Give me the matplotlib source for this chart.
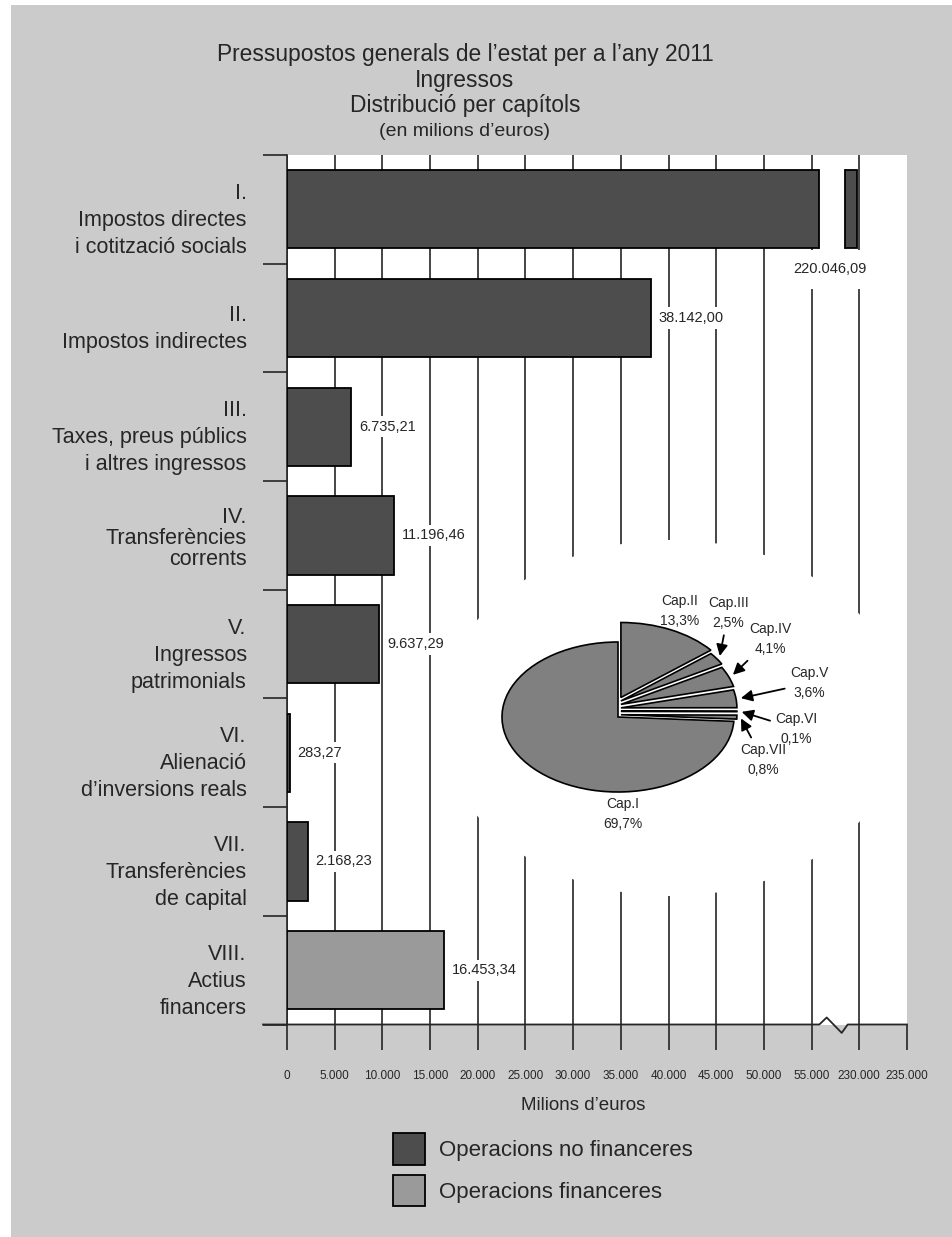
import numpy as np
import matplotlib
matplotlib.use("Agg")
import matplotlib.pyplot as plt
import matplotlib.transforms as mtransforms
from matplotlib import font_manager
from matplotlib.patches import Patch, Rectangle, Ellipse
from matplotlib.lines import Line2D

# Capítols d'ingressos (milions d'euros)
chapters = [
    "I.\nImpostos directes\ni cotització socials",
    "II.\nImpostos indirectes",
    "III.\nTaxes, preus públics\ni altres ingressos",
    "IV.\nTransferències\ncorrents",
    "V.\nIngressos\npatrimonials",
    "VI.\nAlienació\nd’inversions reals",
    "VII.\nTransferències\nde capital",
    "VIII.\nActius\nfinancers",
]
amounts = [220046.09, 38142.00, 6735.21, 11196.46, 9637.29, 283.27, 2168.23, 16453.34]
is_financial = [False, False, False, False, False, False, False, True]

# Pes de cada capítol de les operacions no financeres (%)
pie_names = ["Cap.I", "Cap.II", "Cap.III", "Cap.IV", "Cap.V", "Cap.VI", "Cap.VII"]
pie_shares = [69.7, 13.3, 2.5, 4.1, 3.6, 0.1, 0.8]

tick_values = [0, 5000, 10000, 15000, 20000, 25000, 30000, 35000, 40000,
               45000, 50000, 55000, 230000, 235000]

title_lines = ["Pressupostos generals de l’estat per a l’any 2011",
               "Ingressos",
               "Distribució per capítols",
               "(en milions d’euros)"]

GRAY = "#cbcbcb"
DARK = "#4d4d4d"
LIGHT = "#9a9a9a"
PIE = "#808080"
INK = "#262626"

names = {f.name for f in font_manager.fontManager.ttflist}
plt.rcParams["font.family"] = ["Liberation Sans", "DejaVu Sans"]
if "Liberation Sans Narrow" in names:
    tick_font, tick_size = "Liberation Sans Narrow", 10.5
else:
    tick_font, tick_size = "Liberation Sans", 8.5

W, H = 953, 1237


def fx(px):
    return px / W


def fy(py):
    return 1 - py / H


# axis with a break between 55.000 and 230.000
LOW_MAX, HIGH_MIN, STEP = 55000, 230000, 5000
K = LOW_MAX / STEP


def fwd(v):
    v = np.asarray(v, dtype=float)
    return np.where(v <= LOW_MAX, v / STEP,
                    np.where(v <= HIGH_MIN,
                             K + (v - LOW_MAX) / (HIGH_MIN - LOW_MAX),
                             K + 1 + (v - HIGH_MIN) / STEP))


def inv(p):
    p = np.asarray(p, dtype=float)
    return np.where(p <= K, p * STEP,
                    np.where(p <= K + 1,
                             LOW_MAX + (p - K) * (HIGH_MIN - LOW_MAX),
                             HIGH_MIN + (p - K - 1) * STEP))


def euro(v, dec=2):
    s = f"{v:,.{dec}f}"
    return s.replace(",", "#").replace(".", ",").replace("#", ".")


fig = plt.figure(figsize=(W / 100, H / 100), dpi=100, facecolor="white")
fig.add_artist(Rectangle((fx(11), 0), 1, fy(5), transform=fig.transFigure,
                         facecolor=GRAY, edgecolor="none", zorder=-10))

# titles
title_y = [61, 87, 112, 136]
title_size = [16.4, 16.4, 16.4, 14]
for txt, y, s in zip(title_lines, title_y, title_size):
    fig.text(fx(465), fy(y), txt, ha="center", va="baseline", fontsize=s, color=INK)

ax = fig.add_axes([fx(287), fy(1024.5), fx(620), (1024.5 - 155) / H])
ax.set_facecolor("white")
n = len(chapters)
centers = np.arange(n) + 0.5

ax.set_xscale("function", functions=(fwd, inv))
ax.set_xlim(0, 235000)
ax.set_ylim(n, 0)

# vertical rules
ax.vlines(tick_values[:-1], 0, n, colors=INK, lw=1.2, zorder=1)

colors = [LIGHT if f else DARK for f in is_financial]
ax.barh(centers, amounts, height=0.72, color=colors, edgecolor="black",
        linewidth=1.3, zorder=3)

# gap in the first bar
gap_l, gap_r = (819.3 - 287) / 620, (845 - 287) / 620
blend = mtransforms.blended_transform_factory(ax.transAxes, ax.transData)
ax.add_patch(Rectangle((gap_l, centers[0] - 0.4), gap_r - gap_l, 0.8,
                       transform=blend, facecolor="white", edgecolor="none", zorder=3.5))
for gx in (gap_l, gap_r):
    ax.add_line(Line2D([gx, gx], [centers[0] - 0.36, centers[0] + 0.36],
                       transform=blend, color="black", lw=1.3, zorder=3.6))

# value labels
for i, v in enumerate(amounts):
    if i == 0:
        ax.annotate(euro(v), xy=(v, centers[i] + 0.36), xytext=(10, -14),
                    textcoords="offset pixels", ha="right", va="top", fontsize=10.5,
                    color=INK, zorder=5,
                    bbox=dict(boxstyle="square", fc="white", ec="none", pad=0.85))
    else:
        ax.annotate(euro(v), xy=(v, centers[i]), xytext=(8, 0),
                    textcoords="offset pixels", ha="left", va="center", fontsize=10.5,
                    color=INK, zorder=5,
                    bbox=dict(boxstyle="square", fc="white", ec="none", pad=0.25))

# axis ticks and labels
ax.set_xticks(tick_values, labels=[euro(t, 0) for t in tick_values])
ax.tick_params(axis="x", length=17.8, width=1.2, color=INK, pad=15,
               labelsize=tick_size, labelcolor=INK)
for lbl in ax.get_xticklabels():
    lbl.set_fontfamily(tick_font)

ax.set_yticks(centers, labels=chapters)
ax.set_yticks(np.arange(n + 1), minor=True)
ax.tick_params(axis="y", which="major", length=0, pad=29, labelsize=15.5, labelcolor=INK)
ax.tick_params(axis="y", which="minor", length=17.3, width=1.2, color=INK)
for i, lbl in enumerate(ax.get_yticklabels()):
    dy = -0.03 if i == 3 else -0.11
    lbl.set_va("center")
    lbl.set_multialignment("right")
    lbl.set_linespacing(1.0 if i == 3 else 1.38)
    lbl.set_transform(lbl.get_transform()
                      + mtransforms.ScaledTranslation(0, dy, fig.dpi_scale_trans))

for side in ("top", "right", "bottom"):
    ax.spines[side].set_visible(False)
ax.spines["left"].set_color(INK)
ax.spines["left"].set_linewidth(1.2)

# base line with the break mark
ax.add_line(Line2D([-24 / 620, gap_l, 0.8705, 0.8947, 0.9044, 1.0],
                   [0, 0, 7 / 869.5, -8.4 / 869.5, 0, 0],
                   transform=ax.transAxes, color=INK, lw=1.3, clip_on=False, zorder=6))

ax.set_xlabel("Milions d’euros", fontsize=13.5, color=INK)
ax.xaxis.set_label_coords((583 - 287) / 620, -(1105 - 1024.5) / 869.5)
ax.xaxis.label.set_va("center")

# pie of the non-financial chapters
pcx, pcy, rx, ry = 618, 717, 116, 75
left, right, top, bottom = 430, 905, 535, 900
pax = fig.add_axes([fx(left), fy(bottom), (right - left) / W, (bottom - top) / H])
start = 90 + 360 * pie_shares[0] / sum(pie_shares)
wedges, _ = pax.pie(pie_shares, startangle=start, counterclock=False,
                    colors=[PIE] * len(pie_shares),
                    wedgeprops=dict(edgecolor="black", linewidth=1.2))
# lift the small slices apart from each other, stacked upwards
m = len(wedges)
for j, w in enumerate(wedges[1:], start=1):
    w.set_center((0.025, 0.03 + 0.046 * (m - 1 - j)))
pax.set_aspect("auto")
pax.set_xlim((left - pcx) / rx, (right - pcx) / rx)
pax.set_ylim((pcy - bottom) / ry, (pcy - top) / ry)
pax.axis("off")

# white clearing behind the pie, over the vertical rules
ax.add_patch(Ellipse(((671 - pcx) / rx, (pcy - 718) / ry), 2 * 232 / rx, 2 * 178 / ry,
                     transform=pax.transData, facecolor="white", edgecolor="none",
                     zorder=2))

pie_text_pos = [(0.04, -1.29), (0.53, 1.41), (0.95, 1.39), (1.31, 1.04),
                (1.65, 0.45), (1.54, -0.16), (1.25, -0.57)]
for i, (w, name, share) in enumerate(zip(wedges, pie_names, pie_shares)):
    txt = f"{name}\n{euro(share, 1)}%"
    if i < 2:
        pax.text(*pie_text_pos[i], txt, ha="center", va="center", fontsize=10,
                 color=INK, linespacing=1.55)
        continue
    mid = np.deg2rad((w.theta1 + w.theta2) / 2)
    cx, cy = w.center
    tip = (cx + 1.03 * np.cos(mid), cy + 1.03 * np.sin(mid))
    pax.annotate(txt, xy=tip, xytext=pie_text_pos[i], ha="center", va="center",
                 fontsize=10, color=INK, linespacing=1.55,
                 arrowprops=dict(arrowstyle="-|>", color="black", lw=1.3,
                                 mutation_scale=17, shrinkA=2, shrinkB=1))

handles = [Patch(facecolor=DARK, edgecolor="black", linewidth=1.3),
           Patch(facecolor=LIGHT, edgecolor="black", linewidth=1.3)]
fig.legend(handles, ["Operacions no financeres", "Operacions financeres"],
           loc="upper left", bbox_to_anchor=(fx(392.7), fy(1133.3)),
           frameon=False, fontsize=16, handlelength=1.44, handleheight=1.83,
           handletextpad=0.65, labelspacing=0.42, borderpad=0, borderaxespad=0,
           labelcolor=INK)

fig.savefig("out.png", dpi=100, facecolor=fig.get_facecolor())
